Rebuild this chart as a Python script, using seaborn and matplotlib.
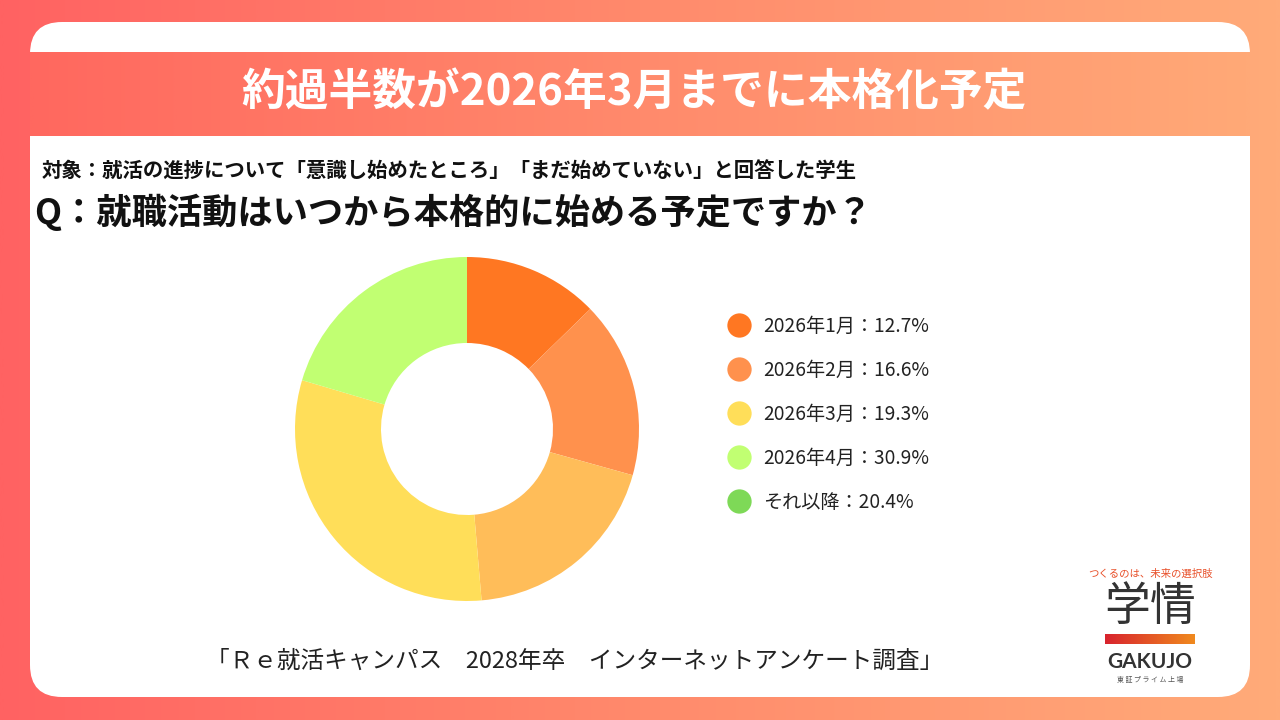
import numpy as np
import matplotlib
matplotlib.use("Agg")
import matplotlib.pyplot as plt
import seaborn as sns
from matplotlib.patches import FancyBboxPatch
from matplotlib.lines import Line2D
from matplotlib.colors import LinearSegmentedColormap

# ---- data ----
categories = ["2026年1月", "2026年2月", "2026年3月", "2026年4月", "それ以降"]
values = [12.7, 16.6, 19.3, 30.9, 20.4]
pie_colors = ["#FF7722", "#FF914D", "#FFBD59", "#FFDE59", "#C1FF72"]
legend_colors = ["#FF7722", "#FF914D", "#FFDE59", "#C1FF72", "#7ED957"]

title = "約過半数が2026年3月までに本格化予定"
target_text = "対象：就活の進捗について「意識し始めたところ」「まだ始めていない」と回答した学生"
question = "Q：就職活動はいつから本格的に始める予定ですか？"
source = "「Ｒｅ就活キャンパス　2028年卒　インターネットアンケート調査」"

sns.set_theme(style="white")
plt.rcParams['font.family'] = ['Noto Sans CJK JP', 'DejaVu Sans']

W, H = 1280, 720
fig = plt.figure(figsize=(12.8, 7.2), dpi=100)

# background axis in pixel coordinates
bg = fig.add_axes([0, 0, 1, 1])
bg_cmap = LinearSegmentedColormap.from_list("bg", ["#FF6262", "#FF8A6C", "#FFAB79"])
band_cmap = LinearSegmentedColormap.from_list("band", ["#FF685F", "#FF8A6C", "#FFA977"])
grad = np.linspace(0, 1, 512)[None, :]
bg.imshow(grad, extent=[0, W, H, 0], cmap=bg_cmap, aspect='auto', zorder=0)
card = FancyBboxPatch((30, 22), 1220, 675, boxstyle="round,pad=0,rounding_size=32",
                      facecolor="white", edgecolor="none", zorder=1)
bg.add_patch(card)
bg.imshow(grad, extent=[30, 1250, 136, 52], cmap=band_cmap, aspect='auto', zorder=2)
bg.axis('off')

bg.text(634, 92, title, color="white", fontsize=31.5, fontweight="bold",
        ha="center", va="center", zorder=3)
bg.text(42, 171, target_text, color="#111111", fontsize=14.7, fontweight="bold",
        ha="left", va="center", zorder=3)
bg.text(34, 212, question, color="#111111", fontsize=25.4, fontweight="bold",
        ha="left", va="center", zorder=3)
bg.text(575, 661, source, color="#222222", fontsize=17,
        ha="center", va="center", zorder=3)

# logo
bg.text(1150, 574, "つくるのは、未来の選択肢", color="#E8502A", fontsize=7.5,
        ha="center", va="center", zorder=3)
bg.text(1150, 607, "学情", color="#333333", fontsize=33,
        ha="center", va="center", zorder=3)
logo_cmap = LinearSegmentedColormap.from_list("logo", ["#D8232E", "#F08A1E"])
bg.imshow(grad, extent=[1105, 1195, 644, 634], cmap=logo_cmap, aspect='auto', zorder=3)
bg.text(1150, 662, "GAKUJO", color="#333333", fontsize=15, fontweight="bold",
        ha="center", va="center", zorder=3, family=["Lato", "DejaVu Sans"])
bg.text(1150, 680, "東 証 プ ラ イ ム 上 場", color="#555555", fontsize=5,
        ha="center", va="center", zorder=3)
bg.set_xlim(0, W)
bg.set_ylim(H, 0)

# donut
cx, cy, r = 467, 429, 172
ax = fig.add_axes([(cx - r) / W, (H - cy - r) / H, 2 * r / W, 2 * r / H])
ax.pie(values, colors=pie_colors, startangle=90, counterclock=False,
       wedgeprops=dict(width=0.5, linewidth=0))
ax.set_xlim(-1, 1)
ax.set_ylim(-1, 1)
ax.axis('off')

# legend
handles = [Line2D([], [], marker='o', linestyle='', markersize=17.5,
                  markerfacecolor=c, markeredgewidth=0) for c in legend_colors]
labels = [f"{c}：{v}%" for c, v in zip(categories, values)]
fs = 13.8
fig.legend(handles, labels, loc='upper left',
           bbox_to_anchor=(729.4 / W, 1 - 316 / H), bbox_transform=fig.transFigure,
           frameon=False, fontsize=fs, labelspacing=1.2, handlelength=1.0,
           handletextpad=0.76, borderpad=0, borderaxespad=0, labelcolor="#222222")

fig.savefig("out.png", dpi=100)
